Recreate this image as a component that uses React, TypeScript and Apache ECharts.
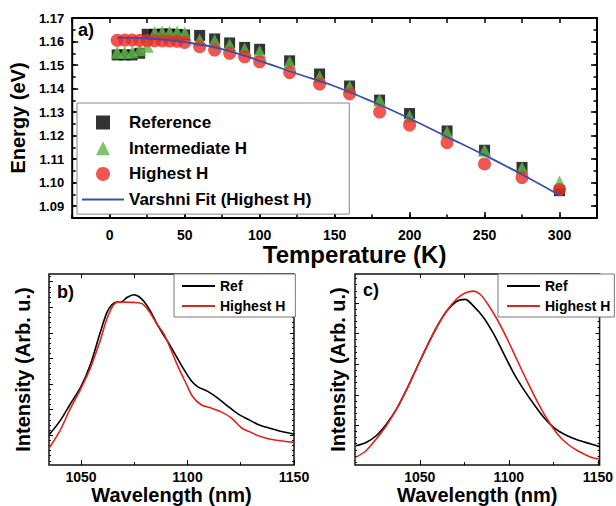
import React, { useEffect, useRef } from "react";
import * as echarts from "echarts";

// ---------- panel a) data ----------
const temperatures = [5, 10, 15, 20, 25, 30, 35, 40, 45, 50, 60, 70, 80, 90, 100, 120, 140, 160, 180, 200, 225, 250, 275, 300];
const referenceEnergy = [1.1543, 1.1543, 1.1543, 1.155, 1.1631, 1.163, 1.1632, 1.1632, 1.163, 1.1628, 1.1626, 1.1611, 1.1594, 1.1575, 1.1567, 1.1518, 1.1462, 1.1411, 1.1351, 1.1294, 1.122, 1.1138, 1.1065, 1.0966];
const intermediateEnergy = [1.1554, 1.1554, 1.1555, 1.1565, 1.158, 1.1639, 1.164, 1.164, 1.164, 1.1637, 1.1606, 1.1604, 1.1586, 1.1568, 1.1558, 1.1512, 1.145, 1.1408, 1.1351, 1.1282, 1.1216, 1.1138, 1.1062, 1.1003];
const highestEnergy = [1.1605, 1.1606, 1.1606, 1.1605, 1.1604, 1.1603, 1.1603, 1.1602, 1.1601, 1.1596, 1.1578, 1.1564, 1.155, 1.1535, 1.1514, 1.1468, 1.1419, 1.1378, 1.13, 1.1245, 1.117, 1.108, 1.1022, 1.0971];
const fitTemperatures = [5, 25, 50, 75, 100, 125, 150, 175, 200, 225, 250, 275, 300];
const fitEnergy = [1.1617, 1.1614, 1.1598, 1.1568, 1.1518, 1.1463, 1.141, 1.1345, 1.1273, 1.1195, 1.1117, 1.1035, 1.0947];
const tempTickLabels = [0, 50, 100, 150, 200, 250, 300];
const tempMinorTicks = [-25, 0, 25, 50, 75, 100, 125, 150, 175, 200, 225, 250, 275, 300, 325];
const energyTickLabels = [1.09, 1.1, 1.11, 1.12, 1.13, 1.14, 1.15, 1.16, 1.17];
const energyMinorTicks = [1.085, 1.09, 1.095, 1.1, 1.105, 1.11, 1.115, 1.12, 1.125, 1.13, 1.135, 1.14, 1.145, 1.15, 1.155, 1.16, 1.165, 1.17];

// ---------- panel b) data ----------
const wlRefB = [1035.3, 1040.1, 1044.8, 1050.0, 1054.3, 1059.0, 1062.1, 1064.5, 1066.9, 1068.5, 1071.6, 1074.8, 1077.1, 1079.5, 1082.6, 1085.8, 1089.0, 1090.5, 1093.7, 1097.6, 1101.6, 1104.7, 1109.5, 1114.2, 1119.0, 1123.7, 1128.4, 1133.1, 1137.9, 1144.2, 1150.0];
const intRefB = [0.04, 0.55, 1.19, 1.9, 2.73, 4.0, 4.78, 5.1, 5.2, 5.19, 5.38, 5.49, 5.42, 5.23, 4.85, 4.33, 3.88, 3.69, 3.24, 2.67, 2.15, 1.9, 1.71, 1.45, 1.13, 0.83, 0.62, 0.42, 0.29, 0.14, 0.04];
const wlHighB = [1035.3, 1040.1, 1044.8, 1050.0, 1054.3, 1059.0, 1062.1, 1065.3, 1067.7, 1070.0, 1074.8, 1078.7, 1081.9, 1085.8, 1089.0, 1092.1, 1095.3, 1099.3, 1102.4, 1106.4, 1111.1, 1115.8, 1120.5, 1125.3, 1130.0, 1134.7, 1141.0, 1150.0];
const intHighB = [-0.47, 0.17, 1.0, 1.83, 2.6, 3.69, 4.53, 5.1, 5.2, 5.2, 5.19, 5.14, 4.85, 4.33, 3.95, 3.37, 2.73, 2.03, 1.51, 1.19, 1.06, 0.91, 0.68, 0.29, 0.1, -0.06, -0.19, -0.28];

// ---------- panel c) data ----------
const wlRefC = [1014.2, 1019.8, 1025.5, 1031.1, 1036.8, 1042.5, 1048.1, 1053.8, 1059.4, 1065.1, 1070.8, 1075.5, 1080.2, 1085.8, 1091.5, 1097.2, 1102.8, 1108.5, 1114.2, 1119.8, 1125.5, 1131.1, 1138.7, 1146.2, 1151.0];
const intRefC = [-0.67, -0.56, -0.34, 0.03, 0.52, 1.16, 1.86, 2.56, 3.2, 3.74, 4.06, 4.12, 3.9, 3.53, 2.99, 2.34, 1.7, 1.16, 0.68, 0.25, -0.08, -0.29, -0.48, -0.61, -0.7];
const wlHighC = [1014.2, 1019.8, 1025.5, 1031.1, 1036.8, 1042.5, 1048.1, 1053.8, 1059.4, 1065.1, 1070.8, 1075.5, 1080.2, 1084.0, 1087.7, 1093.4, 1099.1, 1104.7, 1110.4, 1116.0, 1121.7, 1127.4, 1133.0, 1138.7, 1146.2, 1151.0];
const intHighC = [-1.04, -0.83, -0.45, -0.02, 0.52, 1.16, 1.86, 2.56, 3.2, 3.74, 4.14, 4.33, 4.39, 4.28, 4.01, 3.47, 2.83, 2.13, 1.43, 0.78, 0.19, -0.29, -0.61, -0.83, -1.04, -1.1];

const wlTickLabels = [1050, 1100, 1150];
const wlMinorTicks = [1050, 1075, 1100, 1125, 1150];
const intTicksB = [0, 1, 2, 3, 4, 5, 6];
const intTicksC = [0, 1, 2, 3, 4];

const FONT = "'Liberation Sans', Arial, Helvetica, sans-serif";

function steps(start: number, end: number, step: number) {
  const out: number[] = [];
  const n = Math.round((end - start) / step);
  for (let i = 0; i <= n; i++) out.push(+(start + i * step).toFixed(4));
  return out;
}
const intMinorB = steps(-1.0, 6.2, 0.2);
const intMinorC = steps(-1.2, 4.8, 0.2);

function pairs(xs: number[], ys: number[]) {
  return xs.map((x, i) => [x, ys[i]]);
}

function ax(gridIndex: number, min: number, max: number, position: string, ticks: number[], len: number, width: number, extra: any = {}) {
  return {
    type: "value",
    gridIndex,
    min,
    max,
    position,
    axisLine: { show: false, onZero: false },
    splitLine: { show: false },
    axisTick: { show: true, inside: true, length: len, customValues: ticks, lineStyle: { color: "#000", width } },
    axisLabel: { show: false },
    ...extra,
  };
}

const tickLabel = (size: number, margin: number, values: number[], formatter: any) => ({
  show: true,
  customValues: values,
  color: "#000",
  fontSize: size,
  fontWeight: "bold",
  fontFamily: FONT,
  margin,
  formatter,
});

const SQUARE = "path://M0,0L10,0L10,10L0,10Z";
const TRIANGLE = "path://M5,0L10,10L0,10Z";

export default function App() {
  const ref = useRef<HTMLDivElement>(null);
  useEffect(() => {
    document.body.style.margin = "0";
    const chart = echarts.init(ref.current!, undefined, { renderer: "svg" });
    const A = { min: -25, max: 325 };
    const E = { min: 1.085, max: 1.17 };
    const WB = { min: 1035, max: 1150 };
    const WC = { min: 1013.6, max: 1151 };
    const IB = { min: -1.17, max: 6.3 };
    const IC = { min: -1.3, max: 4.95 };
    const plain = (v: number) => String(v);

    const xAxis: any[] = [
      // grid 0 (a)
      ax(0, A.min, A.max, "bottom", tempTickLabels, 6, 1.5, {
        axisLabel: tickLabel(14, 10, tempTickLabels, plain),
        name: "Temperature (K)",
        nameLocation: "middle",
        nameGap: 20,
        nameTextStyle: { fontSize: 24, fontWeight: "bold", fontFamily: FONT, color: "#000", padding: [0, 0, 0, 40] },
      }),
      ax(0, A.min, A.max, "bottom", tempMinorTicks, 3.5, 1.5),
      ax(0, A.min, A.max, "top", tempMinorTicks, 5, 1.5),
      // grid 1 (b)
      ax(1, WB.min, WB.max, "bottom", wlTickLabels, 5, 1, {
        axisLabel: tickLabel(14, 5, wlTickLabels, plain),
        name: "Wavelength (nm)",
        nameLocation: "middle",
        nameGap: 17,
        nameTextStyle: { fontSize: 20, fontWeight: "bold", fontFamily: FONT, color: "#000" },
      }),
      ax(1, WB.min, WB.max, "bottom", wlMinorTicks, 3, 1),
      ax(1, WB.min, WB.max, "top", wlMinorTicks, 4, 1),
      // grid 2 (c)
      ax(2, WC.min, WC.max, "bottom", wlTickLabels, 5, 1, {
        axisLabel: tickLabel(14, 5, wlTickLabels, plain),
        name: "Wavelength (nm)",
        nameLocation: "middle",
        nameGap: 17,
        nameTextStyle: { fontSize: 20, fontWeight: "bold", fontFamily: FONT, color: "#000" },
      }),
      ax(2, WC.min, WC.max, "bottom", wlMinorTicks, 3, 1),
      ax(2, WC.min, WC.max, "top", wlMinorTicks, 4, 1),
    ];

    const yAxis: any[] = [
      ax(0, E.min, E.max, "left", energyTickLabels, 6, 1.5, {
        axisLabel: tickLabel(13, 8, energyTickLabels, (v: number) => v.toFixed(2)),
        name: "Energy (eV)",
        nameLocation: "middle",
        nameGap: 40,
        nameTextStyle: { fontSize: 20, fontWeight: "bold", fontFamily: FONT, color: "#000" },
      }),
      ax(0, E.min, E.max, "left", energyMinorTicks, 3.5, 1.5),
      ax(0, E.min, E.max, "right", energyTickLabels, 6, 1.5),
      ax(0, E.min, E.max, "right", energyMinorTicks, 3.5, 1.5),
      // b
      ax(1, IB.min, IB.max, "left", intTicksB, 4, 1, {
        name: "Intensity (Arb. u.)",
        nameLocation: "middle",
        nameGap: 16,
        nameTextStyle: { fontSize: 20, fontWeight: "bold", fontFamily: FONT, color: "#000" },
      }),
      ax(1, IB.min, IB.max, "left", intMinorB, 2, 1),
      ax(1, IB.min, IB.max, "right", intTicksB, 4, 1),
      ax(1, IB.min, IB.max, "right", intMinorB, 2, 1),
      // c
      ax(2, IC.min, IC.max, "left", intTicksC, 4, 1, {
        name: "Intensity (Arb. u.)",
        nameLocation: "middle",
        nameGap: 7,
        nameTextStyle: { fontSize: 20, fontWeight: "bold", fontFamily: FONT, color: "#000" },
      }),
      ax(2, IC.min, IC.max, "left", intMinorC, 2, 1),
      ax(2, IC.min, IC.max, "right", intTicksC, 4, 1),
      ax(2, IC.min, IC.max, "right", intMinorC, 2, 1),
    ];

    const BLACK = "#000000";
    const GREEN = "#5bb947";
    const RED = "#ec2a24";
    const BLUE = "#3b4fa6";
    const SPEC_RED = "#e3221c";
    const hideSymbol = { opacity: 0 };

    const option: any = {
      animation: false,
      backgroundColor: "#ffffff",
      textStyle: { fontFamily: FONT },
      grid: [
        { left: 67, top: 18, width: 530, height: 200, show: true, borderColor: "#000", borderWidth: 2, backgroundColor: "transparent" },
        { left: 49, top: 274, width: 245, height: 194, show: true, borderColor: "#111", borderWidth: 1.5, backgroundColor: "transparent" },
        { left: 355, top: 274, width: 246, height: 194, show: true, borderColor: "#111", borderWidth: 1.5, backgroundColor: "transparent" },
      ],
      xAxis,
      yAxis,
      legend: [
        {
          data: [
            { name: "Reference", icon: SQUARE },
            { name: "Intermediate H", icon: TRIANGLE },
            { name: "Highest H", icon: "circle" },
            { name: "Varshni Fit (Highest H)", itemStyle: hideSymbol },
          ],
          orient: "vertical",
          left: 77,
          top: 103,
          itemWidth: 42,
          itemHeight: 14,
          itemGap: 8.7,
          symbolKeepAspect: true,
          padding: [11, 38, 6, 4],
          borderColor: "#888",
          borderWidth: 1,
          backgroundColor: "#fff",
          selectedMode: false,
          textStyle: { fontSize: 17, fontWeight: "bold", color: "#000", fontFamily: FONT, lineHeight: 14 },
        },
        {
          data: [
            { name: "Ref (b)", itemStyle: hideSymbol },
            { name: "Highest H (b)", itemStyle: hideSymbol },
          ],
          formatter: (n: string) => n.replace(/ \([bc]\)$/, ""),
          orient: "vertical",
          left: 174,
          top: 274,
          itemWidth: 33,
          itemHeight: 12,
          itemGap: 6,
          padding: [5, 10, 4, 7],
          borderColor: "#777",
          borderWidth: 1,
          backgroundColor: "#fff",
          selectedMode: false,
          textStyle: { fontSize: 14, fontWeight: "bold", color: "#000", fontFamily: FONT, lineHeight: 12 },
        },
        {
          data: [
            { name: "Ref (c)", itemStyle: hideSymbol },
            { name: "Highest H (c)", itemStyle: hideSymbol },
          ],
          formatter: (n: string) => n.replace(/ \([bc]\)$/, ""),
          orient: "vertical",
          left: 498,
          top: 274,
          itemWidth: 33,
          itemHeight: 12,
          itemGap: 6,
          padding: [5, 4, 4, 8],
          borderColor: "#777",
          borderWidth: 1,
          backgroundColor: "#fff",
          selectedMode: false,
          textStyle: { fontSize: 14, fontWeight: "bold", color: "#000", fontFamily: FONT, lineHeight: 12 },
        },
      ],
      series: [
        {
          name: "Reference", type: "scatter", xAxisIndex: 0, yAxisIndex: 0,
          symbol: "rect", symbolSize: 11, itemStyle: { color: BLACK },
          data: pairs(temperatures, referenceEnergy),
        },
        {
          name: "Intermediate H", type: "scatter", xAxisIndex: 0, yAxisIndex: 0,
          symbol: "triangle", symbolSize: 13, itemStyle: { color: GREEN },
          data: pairs(temperatures, intermediateEnergy),
        },
        {
          name: "Highest H", type: "scatter", xAxisIndex: 0, yAxisIndex: 0,
          symbol: "circle", symbolSize: 13, itemStyle: { color: RED },
          data: pairs(temperatures, highestEnergy),
        },
        {
          name: "Varshni Fit (Highest H)", type: "line", xAxisIndex: 0, yAxisIndex: 0,
          symbol: "none", showSymbol: false, smooth: 0.4,
          lineStyle: { color: BLUE, width: 1.8 }, itemStyle: { color: BLUE },
          data: pairs(fitTemperatures, fitEnergy),
        },
        {
          name: "Ref (b)", type: "line", xAxisIndex: 3, yAxisIndex: 4,
          symbol: "none", showSymbol: false, smooth: 0.3,
          lineStyle: { color: BLACK, width: 1.6 }, itemStyle: { color: BLACK },
          data: pairs(wlRefB, intRefB),
        },
        {
          name: "Highest H (b)", type: "line", xAxisIndex: 3, yAxisIndex: 4,
          symbol: "none", showSymbol: false, smooth: 0.3,
          lineStyle: { color: SPEC_RED, width: 1.6 }, itemStyle: { color: SPEC_RED },
          data: pairs(wlHighB, intHighB),
        },
        {
          name: "Ref (c)", type: "line", xAxisIndex: 6, yAxisIndex: 8,
          symbol: "none", showSymbol: false, smooth: 0.3,
          lineStyle: { color: BLACK, width: 1.6 }, itemStyle: { color: BLACK },
          data: pairs(wlRefC, intRefC),
        },
        {
          name: "Highest H (c)", type: "line", xAxisIndex: 6, yAxisIndex: 8,
          symbol: "none", showSymbol: false, smooth: 0.3,
          lineStyle: { color: SPEC_RED, width: 1.6 }, itemStyle: { color: SPEC_RED },
          data: pairs(wlHighC, intHighC),
        },
      ],
      graphic: [
        { type: "text", x: 78, y: 30, style: { text: "a)", fontSize: 18, fontWeight: "bold", fontFamily: FONT, fill: "#000", verticalAlign: "middle" } },
        { type: "text", x: 57, y: 292, style: { text: "b)", fontSize: 18, fontWeight: "bold", fontFamily: FONT, fill: "#000", verticalAlign: "middle" } },
        { type: "text", x: 363, y: 290, style: { text: "c)", fontSize: 18, fontWeight: "bold", fontFamily: FONT, fill: "#000", verticalAlign: "middle" } },
      ],
    };
    chart.setOption(option);
    return () => chart.dispose();
  }, []);
  return <div ref={ref} style={{ position: "absolute", left: 0, top: 0, width: 616, height: 506 }} />;
}
